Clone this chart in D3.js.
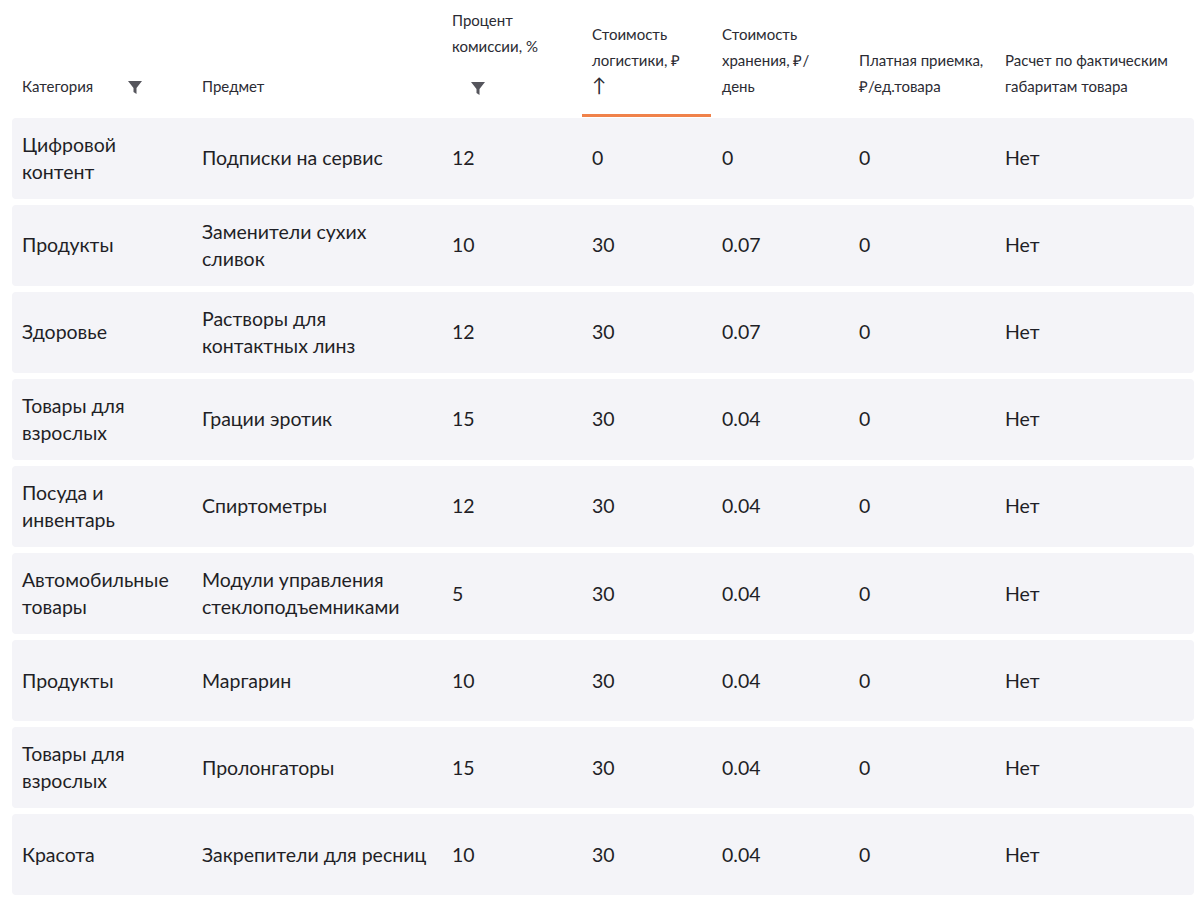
<!DOCTYPE html>
<html><head><meta charset="utf-8">
<script src="https://cdn.jsdelivr.net/npm/d3@7"></script>
<style>body{margin:0;background:#fff}svg{display:block;font-family:Lato,"Open Sans",sans-serif}</style>
</head><body>
<svg id="chart" width="1200" height="897"></svg>
<script>
const headers = [
  ["Категория"],
  ["Предмет"],
  ["Процент", "комиссии, %"],
  ["Стоимость", "логистики, ₽", "↑"],
  ["Стоимость", "хранения, ₽/", "день"],
  ["Платная приемка,", "₽/ед.товара"],
  ["Расчет по фактическим", "габаритам товара"]
];
const categories = [["Цифровой","контент"],["Продукты"],["Здоровье"],["Товары для","взрослых"],["Посуда и","инвентарь"],["Автомобильные","товары"],["Продукты"],["Товары для","взрослых"],["Красота"]];
const subjects = [["Подписки на сервис"],["Заменители сухих","сливок"],["Растворы для","контактных линз"],["Грации эротик"],["Спиртометры"],["Модули управления","стеклоподъемниками"],["Маргарин"],["Пролонгаторы"],["Закрепители для ресниц"]];
const commission = [12,10,12,15,12,5,10,15,10];
const logistics = [0,30,30,30,30,30,30,30,30];
const storage = ["0","0.07","0.07","0.04","0.04","0.04","0.04","0.04","0.04"];
const acceptance = [0,0,0,0,0,0,0,0,0];
const actualSize = ["Нет","Нет","Нет","Нет","Нет","Нет","Нет","Нет","Нет"];

const svg = d3.select("#chart");
const colX = [22, 202, 452, 592, 722, 859, 1005];
const y = d3.scaleBand().domain(d3.range(categories.length)).range([118, 895]).paddingInner(0.07).paddingOuter(0);

// header
const headerBottom = 96, lh = 26;
headers.forEach((lines, i) => {
  const n = lines.length;
  lines.forEach((t, j) => {
    const yy = (i === 2 ? 26 : headerBottom - (n - 1 - j) * lh - 4) + (i === 2 ? j * lh : 0);
    svg.append("text").attr("x", colX[i]).attr("y", yy)
      .attr("font-size", t === "↑" ? 19 : 15).attr("fill", "#2b2b33").text(t);
  });
});
// filter icons
function funnel(cx, cy) {
  svg.append("path").attr("fill", "#55555c")
    .attr("d", `M${cx-7},${cy-6} L${cx+7},${cy-6} L${cx+1.5},${cy+1} L${cx+1.5},${cy+7} L${cx-1.5},${cy+5} L${cx-1.5},${cy+1} Z`);
}
funnel(135, 87);
funnel(478, 88);
svg.append("rect").attr("x", 582).attr("y", 114).attr("width", 129).attr("height", 3).attr("fill", "#f0824a");

// rows
const rows = svg.selectAll("g.row").data(d3.range(categories.length)).join("g").attr("class", "row")
  .attr("transform", d => `translate(0,${y(d)})`);
rows.append("rect").attr("x", 12).attr("width", 1182).attr("height", y.bandwidth()).attr("rx", 4).attr("fill", "#f4f4f8");

function cell(g, col, lines) {
  const n = lines.length, mid = y.bandwidth() / 2;
  lines.forEach((t, j) => {
    g.append("text").attr("x", colX[col]).attr("y", mid + (j - (n - 1) / 2) * 27 + 7)
      .attr("font-size", 19.5).attr("fill", "#1f1f26").text(t);
  });
}
rows.each(function(i) {
  const g = d3.select(this);
  cell(g, 0, categories[i]);
  cell(g, 1, subjects[i]);
  cell(g, 2, [String(commission[i])]);
  cell(g, 3, [String(logistics[i])]);
  cell(g, 4, [storage[i]]);
  cell(g, 5, [String(acceptance[i])]);
  cell(g, 6, [actualSize[i]]);
});
</script>
</body></html>
